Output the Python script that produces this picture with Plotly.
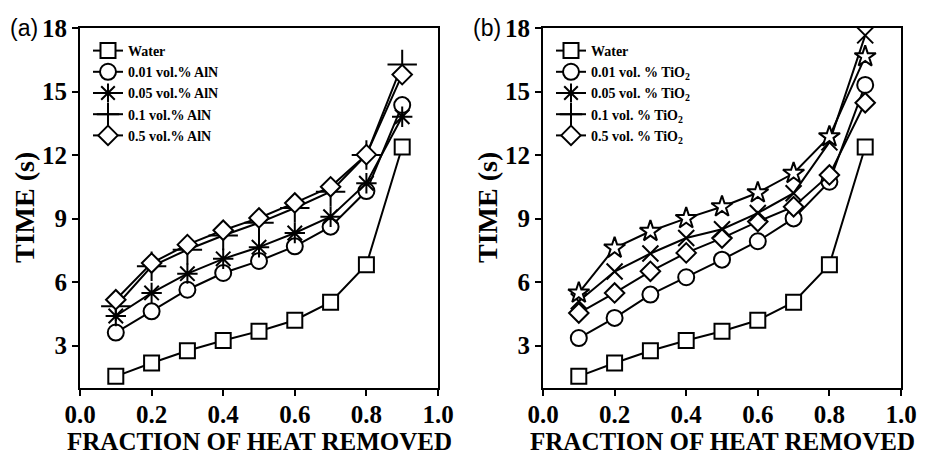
import plotly.graph_objects as go

fraction = [0.1, 0.2, 0.3, 0.4, 0.5, 0.6, 0.7, 0.8, 0.9]

water = [1.55, 2.18, 2.76, 3.24, 3.68, 4.2, 5.05, 6.82, 12.38]

# Panel (a) AlN
aln_001 = [3.62, 4.62, 5.64, 6.43, 7.0, 7.69, 8.62, 10.3, 14.36]
aln_005 = [4.4, 5.49, 6.4, 7.1, 7.65, 8.32, 9.09, 10.67, 13.81]
aln_01 = [4.86, 6.75, 7.53, 8.2, 8.8, 9.5, 10.27, 12.0, 16.28]
aln_05 = [5.17, 6.9, 7.77, 8.45, 9.03, 9.74, 10.5, 12.02, 15.8]

# Panel (b) TiO2
tio_001 = [3.36, 4.31, 5.41, 6.23, 7.06, 7.93, 9.01, 10.74, 15.31]
tio_005 = [5.1, 6.5, 7.35, 8.08, 8.5, 9.26, 10.2, 12.6, 17.65]
tio_01 = [5.49, 7.61, 8.4, 9.01, 9.56, 10.22, 11.14, 12.87, 16.65]
tio_05 = [4.54, 5.49, 6.51, 7.38, 8.08, 8.86, 9.56, 11.06, 14.47]

labels_a = ["Water", "0.01 vol.% AlN", "0.05 vol.% AlN", "0.1 vol.% AlN", "0.5 vol.% AlN"]
labels_b = ["Water", "0.01 vol. % TiO<sub>2</sub>", "0.05 vol. % TiO<sub>2</sub>",
            "0.1 vol. % TiO<sub>2</sub>", "0.5 vol. % TiO<sub>2</sub>"]

x_title = "FRACTION OF HEAT REMOVED"
y_title = "TIME (s)"
panel_labels = ["(a)", "(b)"]

x_ticks = [0.0, 0.2, 0.4, 0.6, 0.8, 1.0]
y_ticks = [3, 6, 9, 12, 15, 18]

SERIF = "Liberation Serif"
fig = go.Figure()

LINE_SYMBOLS = {"asterisk-open", "cross-thin-open", "x-thin-open"}


def add(x, y, name, sym, size, xa, ya, leg, show=True):
    fill = "black" if sym in LINE_SYMBOLS else "white"
    fig.add_trace(go.Scatter(
        x=x, y=y, name=name, mode="lines+markers",
        xaxis=xa, yaxis=ya, legend=leg, showlegend=show,
        line=dict(color="black", width=2),
        marker=dict(symbol=sym, size=size, color=fill,
                    line=dict(color="black", width=2)),
        cliponaxis=False,
    ))


# Panel a
add(fraction, water, labels_a[0], "square", 15, "x", "y", "legend")
add(fraction, aln_001, labels_a[1], "circle", 16, "x", "y", "legend")
add(fraction, aln_005, labels_a[2], "asterisk-open", 17, "x", "y", "legend")
add(fraction, aln_01, labels_a[3], "cross-thin-open", 21, "x", "y", "legend")
add(fraction, aln_05, labels_a[4], "diamond", 15, "x", "y", "legend")

# Panel b
add(fraction, water, labels_b[0], "square", 15, "x2", "y2", "legend2")
add(fraction, tio_001, labels_b[1], "circle", 16, "x2", "y2", "legend2")
add([None], [None], labels_b[2], "asterisk-open", 17, "x2", "y2", "legend2")
add([None], [None], labels_b[3], "cross-thin-open", 21, "x2", "y2", "legend2")
add(fraction, tio_05, labels_b[4], "diamond", 15, "x2", "y2", "legend2")
add(fraction, tio_005, labels_b[2], "x-thin-open", 16, "x2", "y2", "legend2", show=False)
add(fraction, tio_01, labels_b[3], "star", 16, "x2", "y2", "legend2", show=False)

tickfont = dict(family=SERIF, size=25, color="black", weight="bold")
xtitlefont = dict(family=SERIF, size=25, color="black", weight="bold")
ytitlefont = dict(family=SERIF, size=28, color="black", weight="bold")

xa_common = dict(range=[0, 1], tickvals=x_ticks, tickformat=".1f", automargin=False,
                 showline=True, linecolor="black", linewidth=2, mirror=True,
                 ticks="outside", ticklen=6, tickwidth=2, tickcolor="black",
                 ticklabelstandoff=-3,
                 showgrid=False, zeroline=False, tickfont=tickfont)
ya_common = dict(range=[1, 18], tickvals=y_ticks, automargin=False,
                 showline=True, linecolor="black", linewidth=2, mirror=True,
                 ticks="outside", ticklen=6, tickwidth=2, tickcolor="black",
                 showgrid=False, zeroline=False, tickfont=tickfont)

W, H = 926, 456
legfont = dict(family=SERIF, size=14, color="black", weight="bold")

annotations = []
for i, (left, right) in enumerate([(80, 438), (543, 901)]):
    off = 463 * i
    annotations.append(dict(text=panel_labels[i], x=(8 + off) / W, y=1 - 28 / H,
                            xref="paper", yref="paper", xanchor="left", yanchor="middle",
                            showarrow=False,
                            font=dict(family="Liberation Sans", size=23, color="black")))
    annotations.append(dict(text=x_title, x=(left + right) / 2 / W, y=0,
                            xref="paper", yref="paper", xanchor="center", yanchor="bottom",
                            borderpad=0, showarrow=False, font=xtitlefont))
    annotations.append(dict(text=y_title, x=(24 + off) / W, y=1 - 208 / H,
                            xref="paper", yref="paper", xanchor="center", yanchor="middle",
                            textangle=-90, showarrow=False, font=ytitlefont))

fig.update_layout(
    width=W, height=H,
    margin=dict(l=0, r=0, t=0, b=0),
    paper_bgcolor="white", plot_bgcolor="white",
    xaxis=dict(domain=[80 / W, 438 / W], anchor="y", **xa_common),
    yaxis=dict(domain=[68 / H, 428 / H], anchor="x", **ya_common),
    xaxis2=dict(domain=[543 / W, 901 / W], anchor="y2", **xa_common),
    yaxis2=dict(domain=[68 / H, 428 / H], anchor="x2", **ya_common),
    legend=dict(x=88 / W, y=1 - 35 / H, xanchor="left", yanchor="top",
                bgcolor="rgba(0,0,0,0)", itemwidth=30, tracegroupgap=0, font=legfont),
    legend2=dict(x=551 / W, y=1 - 35 / H, xanchor="left", yanchor="top",
                 bgcolor="rgba(0,0,0,0)", itemwidth=30, tracegroupgap=0, font=legfont),
    annotations=annotations,
)

fig.write_html("out.html", config={"displayModeBar": False},
               post_script="document.body.style.margin='0px';")
